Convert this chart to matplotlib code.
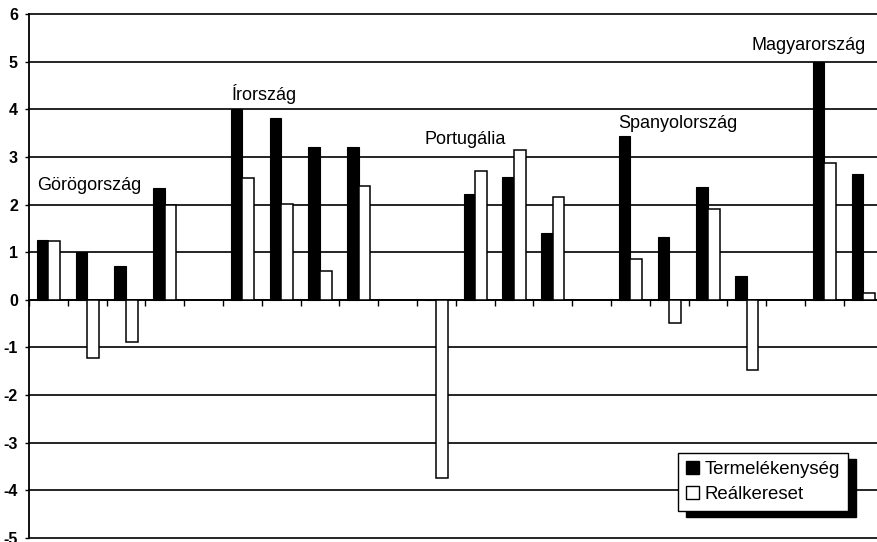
import numpy as np
import matplotlib
matplotlib.use("Agg")
import matplotlib.pyplot as plt
from matplotlib.patches import Patch, Rectangle

plt.rcParams['font.family'] = ['Liberation Sans', 'DejaVu Sans']

# adatok (22 kategoria, ures helyek az orszagok kozott)
kategoriak = np.arange(22)
termelekenyseg = [1.26, 1.00, 0.71, 2.34, np.nan, 4.01, 3.81, 3.21, 3.21, np.nan,
                  0.0, 2.22, 2.58, 1.41, np.nan, 3.43, 1.31, 2.36, 0.50, np.nan,
                  5.00, 2.64]
realkereset = [1.23, -1.23, -0.88, 1.99, np.nan, 2.55, 2.02, 0.61, 2.39, np.nan,
               -3.75, 2.70, 3.14, 2.15, np.nan, 0.86, -0.48, 1.91, -1.47, np.nan,
               2.87, 0.15]
orszagok = ['Görögország', 'Írország', 'Portugália', 'Spanyolország', 'Magyarország']
yticks = list(range(-5, 7))

# felirat poziciok (kategoria, ertek)
cimke_x = [0.21, 5.23, 10.2, 15.18, 18.63]
cimke_y = [2.41, 4.33, 3.37, 3.70, 5.33]

fig = plt.figure(figsize=(8.78, 5.42), dpi=100)
ax = fig.add_axes([29/878, 4/542, (882.6-29)/878, (538-14)/542])

w = 0.3
ax.bar(kategoriak + 0.35, termelekenyseg, width=w, color='black',
       edgecolor='black', linewidth=0.8, zorder=3)
ax.bar(kategoriak + 0.65, realkereset, width=w, color='white',
       edgecolor='black', linewidth=1.1, zorder=3)

ax.set_xlim(0, 22)
ax.set_ylim(-5, 6)
ax.set_yticks(yticks)
ax.set_yticklabels([str(v) for v in yticks], fontsize=11.5, fontweight='bold')
ax.yaxis.grid(True, color='black', linewidth=1.2, zorder=0)
ax.set_axisbelow(True)
for gl in ax.get_ygridlines():
    gl.set_clip_on(False)

ax.spines['right'].set_visible(False)
ax.spines['top'].set_visible(False)
ax.spines['left'].set_linewidth(1.3)
ax.spines['bottom'].set_position(('data', 0))
ax.spines['bottom'].set_linewidth(1.3)
ax.set_xticks(np.arange(0, 23))
ax.set_xticklabels([])
ax.tick_params(axis='x', direction='out', length=4, width=1)
ax.tick_params(axis='y', direction='out', length=3, width=1, pad=5)

for nev, x, y in zip(orszagok, cimke_x, cimke_y):
    ax.text(x, y, nev, fontsize=13, ha='left', va='center', zorder=4)

handles = [Patch(facecolor='black', edgecolor='black'),
           Patch(facecolor='white', edgecolor='black')]
leg = ax.legend(handles, ['Termelékenység', 'Reálkereset'],
                loc='upper left', bbox_to_anchor=(678/878, 1 - 453/542),
                bbox_transform=fig.transFigure, borderaxespad=0,
                fontsize=13.4, fancybox=False, framealpha=1,
                edgecolor='black', handlelength=0.7, handleheight=0.7,
                handletextpad=0.3, labelspacing=0.42, borderpad=0.42)
leg.get_frame().set_linewidth(1.0)
leg.set_zorder(6)

fig.canvas.draw()
bb = leg.get_window_extent().transformed(fig.transFigure.inverted())
dx, dy = 8/878, 6/542
ax.add_patch(Rectangle((bb.x0 + dx, bb.y0 - dy), bb.width, bb.height,
                       transform=fig.transFigure, facecolor='black',
                       edgecolor='black', zorder=5.5, clip_on=False))

fig.savefig('out.png', dpi=100)
